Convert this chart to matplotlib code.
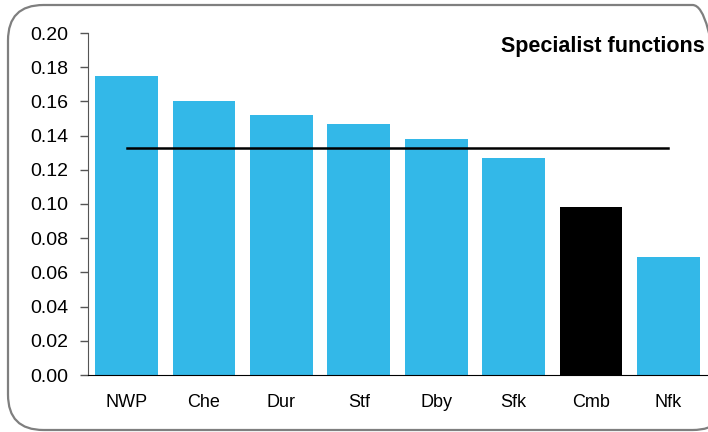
import matplotlib
matplotlib.use("Agg")
import matplotlib.pyplot as plt
from matplotlib.patches import FancyBboxPatch

categories = ["NWP", "Che", "Dur", "Stf", "Dby", "Sfk", "Cmb", "Nfk"]
values = [0.175, 0.160, 0.152, 0.147, 0.138, 0.127, 0.098, 0.069]
average = 0.133
highlight = "Cmb"

plt.rcParams['font.family'] = ['Liberation Sans', 'DejaVu Sans']

W, H = 708, 432
fig = plt.figure(figsize=(W/100, H/100), dpi=100)

border = FancyBboxPatch((8/W, 2/H), (W+20-8)/W, (H-7)/H,
                        boxstyle="round,pad=0,rounding_size=0.05",
                        transform=fig.transFigure, fill=False,
                        edgecolor="#7f7f7f", linewidth=1.6, mutation_aspect=W/H)
fig.patches.append(border)

ax = fig.add_axes([88/W, 1-375/H, (707-88)/W, (375-33)/H])
x = range(len(categories))
colors = ["black" if c == highlight else "#33b8e8" for c in categories]
ax.bar(x, values, width=0.81, color=colors)
ax.plot([0, len(categories)-1], [average, average], color="black", linewidth=1.8)

ax.set_xlim(-0.5, len(categories)-0.5)
ax.set_ylim(0, 0.20)
ax.set_yticks([i*0.02 for i in range(11)])
ax.set_yticklabels([f"{i*0.02:.2f}" for i in range(11)], fontsize=14)
ax.set_xticks(list(x))
ax.set_xticklabels(categories, fontsize=13)
ax.tick_params(axis='x', length=0, pad=14)
ax.tick_params(axis='y', length=6, width=1, color="#555555", pad=8)
for s in ["top", "right"]:
    ax.spines[s].set_visible(False)
ax.spines["left"].set_color("#555555")
ax.spines["bottom"].set_color("black")
ax.text(0.997, 0.99, "Specialist functions", transform=ax.transAxes,
        ha="right", va="top", fontsize=15.5, fontweight="bold")

fig.savefig("out.png", dpi=100)
